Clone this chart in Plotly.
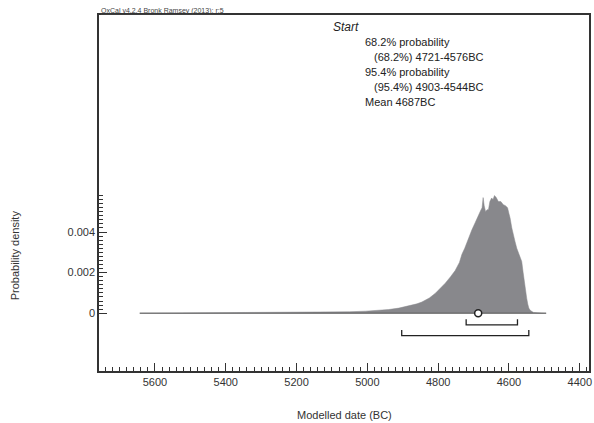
import plotly.graph_objects as go

# OxCal "Start" boundary, modelled date (BC) vs probability density
years = [5643, 5600, 5500, 5400, 5300, 5200, 5100, 5050, 5005, 4975, 4940, 4911,
         4883, 4860, 4846, 4825, 4808, 4795, 4780, 4765, 4752, 4740, 4733, 4725,
         4719, 4714, 4705, 4695, 4688, 4681, 4676, 4673, 4670, 4666, 4662, 4658,
         4654, 4649, 4645, 4641, 4636, 4630, 4623, 4616, 4610, 4604, 4600, 4597,
         4592, 4587, 4583, 4578, 4574, 4569, 4564, 4560, 4557, 4553, 4550, 4547,
         4544, 4540, 4536, 4531, 4520, 4495]
density = [0, 0.000005, 0.00001, 0.00001, 0.00002, 0.00003, 0.00005, 0.00007,
           0.0001, 0.00013, 0.00018, 0.00025, 0.00036, 0.00046, 0.00055, 0.00075,
           0.00098, 0.0012, 0.00148, 0.0018, 0.0021, 0.0025, 0.0029, 0.0032,
           0.0035, 0.0037, 0.0041, 0.00448, 0.0048, 0.00502, 0.0052, 0.0057,
           0.0053, 0.0050, 0.0051, 0.0051, 0.0055, 0.00568, 0.0056, 0.0058,
           0.0057, 0.0055, 0.0055, 0.00535, 0.0053, 0.0052, 0.0049, 0.0047,
           0.0042, 0.0039, 0.00354, 0.0032, 0.00304, 0.0028, 0.00255, 0.0020,
           0.00156, 0.0011, 0.00074, 0.00045, 0.00025, 0.00014, 0.00008, 0.00004,
           0.00002, 0]

name = "Start"
hpd68 = [4721, 4576]
hpd95 = [4903, 4544]
mean_bc = 4687

x_ticks = [5600, 5400, 5200, 5000, 4800, 4600, 4400]
x_minor = list(range(5740, 4379, -20))
y_ticks = [0, 0.002, 0.004]
y_minor = [i * 0.0002 for i in range(0, 30)]

L, R, T, B = 99, 591, 15, 371
W, H = 594, 423


def px(x):
    return (x - L) / (R - L)


def py(y):
    return (B - y) / (B - T)


fig = go.Figure()
fig.add_trace(go.Scatter(x=years, y=density, mode="lines", fill="tozeroy",
                         fillcolor="#88888c", line=dict(width=0.5, color="#88888c"),
                         hoverinfo="skip"))
fig.add_trace(go.Scatter(x=[years[0], years[-1]], y=[0, 0], mode="lines",
                         line=dict(width=1, color="#555")))

# range brackets under the curve
for rng, lev in [(hpd68, -0.00058), (hpd95, -0.00111)]:
    h = 0.00028
    fig.add_trace(go.Scatter(x=[rng[0], rng[0], rng[1], rng[1]],
                             y=[lev + h, lev, lev, lev + h], mode="lines",
                             line=dict(width=1.3, color="#222")))

fig.add_trace(go.Scatter(x=[mean_bc], y=[0], mode="markers",
                         marker=dict(symbol="circle", size=7, color="white",
                                     line=dict(width=1.5, color="#222"))))

font = dict(family="Liberation Sans, Arial, sans-serif", size=11, color="#222")
lines = [
    (name, 331.7, 27, True),
    (f"{68.2}% probability", 364.3, 42, False),
    (f"(68.2%) {hpd68[0]}-{hpd68[1]}BC", 372.7, 57, False),
    (f"{95.4}% probability", 364.3, 72, False),
    (f"(95.4%) {hpd95[0]}-{hpd95[1]}BC", 372.7, 87, False),
    (f"Mean {mean_bc}BC", 364.3, 102, False),
]
ann = []
for txt, x, y, big in lines:
    ann.append(dict(text=f"<i>{txt}</i>" if big else txt, xref="paper", yref="paper",
                    x=px(x), y=py(y), xanchor="left", yanchor="middle",
                    showarrow=False,
                    font=dict(font, size=12 if big else 11)))
ann.append(dict(text="<u>OxCal v4.2.4 Bronk Ramsey (2013); r:5</u>", xref="paper",
                yref="paper", x=0, y=1, xanchor="left", yanchor="bottom",
                showarrow=False, yshift=-2,
                font=dict(font, size=7, color="#444")))
ann.append(dict(text="Modelled date (BC)", xref="paper", yref="paper",
                x=px(345), y=py(415), xanchor="center", yanchor="middle",
                showarrow=False, font=dict(font, color="#333")))
ann.append(dict(text="Probability density", xref="paper", yref="paper",
                x=px(15), y=py(255), xanchor="center", yanchor="middle",
                showarrow=False, textangle=-90, font=dict(font, color="#333")))

axis_line = dict(showline=True, linewidth=1.5, linecolor="#333", mirror=True,
                 showgrid=False, zeroline=False, ticks="inside",
                 tickcolor="#333", tickwidth=1, tickfont=dict(font, color="#333"))

fig.update_layout(
    width=W, height=H,
    margin=dict(l=L, r=W - R, t=T, b=H - B),
    paper_bgcolor="white", plot_bgcolor="white",
    showlegend=False,
    annotations=ann,
    xaxis=dict(axis_line, range=[5758, 4374], tickmode="array", tickvals=x_ticks,
               ticklen=8,
               minor=dict(tickmode="array", tickvals=x_minor, ticks="inside",
                          ticklen=4, tickcolor="#333", showgrid=False)),
    yaxis=dict(axis_line, range=[-0.00285, 0.0147], tickmode="array",
               tickvals=y_ticks, ticktext=["0", "0.002", "0.004"], ticklen=8,
               minor=dict(tickmode="array", tickvals=y_minor, ticks="inside",
                          ticklen=4, tickcolor="#333", showgrid=False)),
)

fig.write_html("out.html", config={"displayModeBar": False},
               post_script="document.body.style.margin='0';")
